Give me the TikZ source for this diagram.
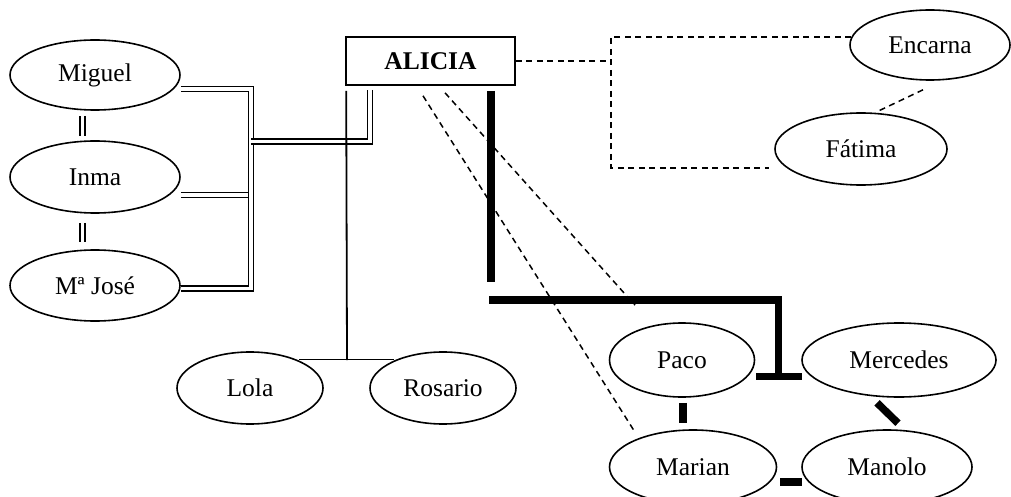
\documentclass[tikz,border=0pt]{standalone}
\usepackage{fontspec}
\setmainfont{Liberation Serif}
\usetikzlibrary{shapes.geometric,calc}
\begin{document}
\begin{tikzpicture}[x=1pt,y=-1pt,
  person/.style={ellipse,draw,line width=1.6pt,inner sep=0pt,
    font=\fontsize{25.5}{30}\selectfont},
  household/.style={draw,line width=1.6pt,double=white,double distance=3.2pt},
  kin/.style={line width=1.8pt},
  bond/.style={line width=7.5pt},
  tie/.style={line width=1.5pt,dash pattern=on 6pt off 4.5pt},
]
\useasboundingbox (0,0) rectangle (1011,497);

% central person
\node[draw,line width=1.6pt,minimum width=169pt,minimum height=48pt,inner sep=0pt,
  font=\fontsize{25.5}{30}\selectfont\bfseries] (alicia) at (430.5,61) {ALICIA};

% household on the left
\node[person,minimum width=170pt,minimum height=70pt] (miguel) at (95,75) {Miguel};
\node[person,minimum width=170pt,minimum height=72pt] (inma) at (95,177) {Inma};
\node[person,minimum width=170pt,minimum height=71pt] (mjose) at (95,285.5) {Mª José};

% siblings
\node[person,minimum width=146pt,minimum height=72pt] (lola) at (250,388) {Lola};
\node[person,minimum width=146pt,minimum height=72pt] (rosario) at (443,388) {Rosario};

% friends
\node[person,minimum width=160pt,minimum height=70pt] (encarna) at (930,45) {Encarna};
\node[person,minimum width=172pt,minimum height=72pt] (fatima) at (861,149) {Fátima};

% family group below right
\node[person,minimum width=145pt,minimum height=74pt] (paco) at (682,360) {Paco};
\node[person,minimum width=194pt,minimum height=74pt] (mercedes) at (899,360) {Mercedes};
\node[person,minimum width=167pt,minimum height=74pt] (marian) at (693,467) {Marian};
\node[person,minimum width=170pt,minimum height=74pt] (manolo) at (887,467) {Manolo};

% --- household links (double lines)
\coordinate (trunktop) at (251,89);
\coordinate (trunkbot) at (251,288.5);
\coordinate (trunkmid) at (251,195);
\coordinate (trunkjoin) at (251,141.5);
\draw[household] ($(inma.east)+(0,18)$) -- (trunkmid);
\draw[household] ($(miguel.east)+(0,14)$) -- (trunktop) -- (trunkbot)
  -- ($(mjose.east)+(0,3)$);
\draw[household] ($(alicia.south)+(-60.5,4)$) |- (trunkjoin);
\draw[household] ($(miguel.south)+(-12.5,5)$) -- ($(inma.north)+(-12.5,-4)$);
\draw[household] ($(inma.south)+(-12.5,9)$) -- ($(mjose.north)+(-12.5,-7)$);

% --- sibling link
\coordinate (sibbar) at (347,360);
\draw[kin] ($(alicia.south west)+(1,5)$) -- (sibbar);
\draw[kin] ($(lola.north east)+(-3,-2.5)$) -- ($(rosario.north west)+(3,-2.5)$);

% --- strong links
\coordinate (bondstart) at (489,300);
\coordinate (pm) at ($(paco.east)!0.5!(mercedes.west)+(0,16.5)$);
\draw[bond] ($(alicia.south)+(60.5,5)$) -- ($(alicia.south)+(60.5,196)$);
\draw[bond] (bondstart) -| (pm);
\draw[bond] ($(paco.east)+(1,16.5)$) -- ($(mercedes.west)+(1,16.5)$);
\draw[bond] ($(paco.south)+(1,5)$) -- ($(marian.north)+(-10,-6)$);
\draw[bond] ($(mercedes.south)+(-22,5)$) -- ($(manolo.north)+(11,-6)$);
\draw[bond] ($(marian.east)+(3,15)$) -- ($(manolo.west)+(1,15)$);

% --- weak links (dashed)
\coordinate (boxleft) at (611,61);
\coordinate (boxtop) at (611,37);
\coordinate (boxbot) at (611,168);
\draw[tie] (alicia.east) -- (boxleft);
\draw[tie] ($(encarna.west)+(2,-8)$) -- (boxtop) -- (boxbot) -- ($(fatima.west)+(-5,19)$);
\draw[tie] ($(encarna.south)+(-7,9)$) -- ($(fatima.north)+(17,-1)$);
\draw[tie] ($(alicia.south)+(-7.5,10)$) -- ($(marian.north)+(-58,3)$);
\draw[tie] ($(alicia.south)+(14.5,7)$) -- ($(paco.north)+(-47,-17)$);
\end{tikzpicture}
\end{document}
